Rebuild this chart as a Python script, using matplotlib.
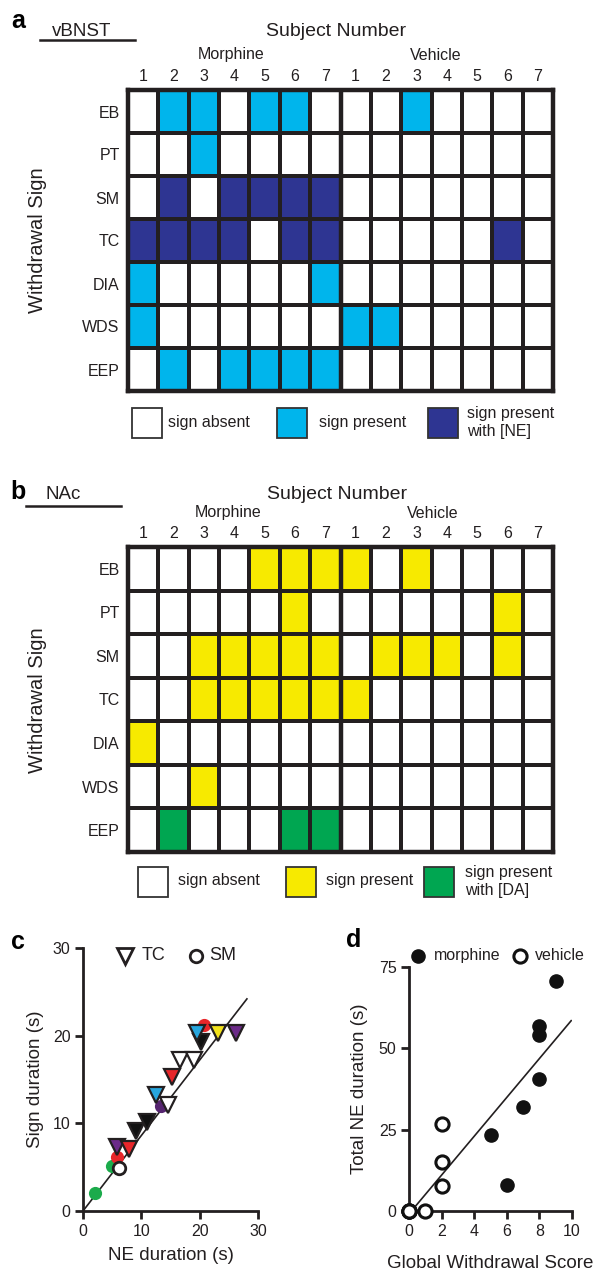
import matplotlib
matplotlib.use('Agg')
import matplotlib.pyplot as plt
from matplotlib.colors import ListedColormap
from matplotlib.patches import Rectangle
import numpy as np

plt.rcParams['font.family'] = ['Liberation Sans', 'DejaVu Sans']
TXT = '#231f20'

# ---------------- data ----------------
signs = ['EB', 'PT', 'SM', 'TC', 'DIA', 'WDS', 'EEP']
subject_labels = ['1', '2', '3', '4', '5', '6', '7', '1', '2', '3', '4', '5', '6', '7']
# 0 = sign absent, 1 = sign present, 2 = sign present with [NE] / [DA]
vbnst_grid = [
    [0, 1, 1, 0, 1, 1, 0, 0, 0, 1, 0, 0, 0, 0],
    [0, 0, 1, 0, 0, 0, 0, 0, 0, 0, 0, 0, 0, 0],
    [0, 2, 0, 2, 2, 2, 2, 0, 0, 0, 0, 0, 0, 0],
    [2, 2, 2, 2, 0, 2, 2, 0, 0, 0, 0, 0, 2, 0],
    [1, 0, 0, 0, 0, 0, 1, 0, 0, 0, 0, 0, 0, 0],
    [1, 0, 0, 0, 0, 0, 0, 1, 1, 0, 0, 0, 0, 0],
    [0, 1, 0, 1, 1, 1, 1, 0, 0, 0, 0, 0, 0, 0],
]
nac_grid = [
    [0, 0, 0, 0, 1, 1, 1, 1, 0, 1, 0, 0, 0, 0],
    [0, 0, 0, 0, 0, 1, 0, 0, 0, 0, 0, 0, 1, 0],
    [0, 0, 1, 1, 1, 1, 1, 0, 1, 1, 1, 0, 1, 0],
    [0, 0, 1, 1, 1, 1, 1, 1, 0, 0, 0, 0, 0, 0],
    [1, 0, 0, 0, 0, 0, 0, 0, 0, 0, 0, 0, 0, 0],
    [0, 0, 1, 0, 0, 0, 0, 0, 0, 0, 0, 0, 0, 0],
    [0, 2, 0, 0, 0, 2, 2, 0, 0, 0, 0, 0, 0, 0],
]

# panel c: sign duration vs NE duration
tc_ne = [5.9, 7.8, 9.0, 11.0, 12.5, 14.6, 15.2, 16.6, 19.1, 20.3, 19.5, 23.2, 26.2]
tc_sign = [7.3, 7.1, 9.1, 10.2, 13.2, 12.1, 15.3, 17.2, 17.2, 19.3, 20.3, 20.3, 20.3]
tc_color = ['#6b2a88', '#e8262a', '#111111', '#111111', '#27a6de', 'white', '#e8262a',
            'white', 'white', '#111111', '#27a6de', '#f3e31c', '#6b2a88']
sm_ne = [2.05, 4.9, 5.9, 13.4, 20.8, 6.2]
sm_sign = [2.1, 5.1, 6.2, 12.0, 21.2, 4.9]
sm_color = ['#1bab4b', '#1bab4b', '#e8262a', '#55246f', '#e8262a', 'white']
c_fit = (0.861, 0.0)      # slope, intercept
c_fit_range = (0.0, 28.1)

# panel d: total NE duration vs global withdrawal score
morph_score = [9, 8, 8, 8, 7, 5, 6]
morph_ne = [70.6, 56.8, 54.0, 40.5, 32.0, 23.5, 7.9]
veh_score = [0, 0, 0, 1, 2, 2, 2]
veh_ne = [0, 0, 0, 0, 7.6, 15.1, 26.8]
d_fit = (5.97, -0.9)
d_fit_range = (0.15, 9.95)

C_BLUE = '#00b5ec'
C_NAVY = '#2e3592'
C_YEL = '#f7ea00'
C_GRN = '#00a651'

# ---------------- figure ----------------
W, H = 598, 1272
fig = plt.figure(figsize=(W / 100, H / 100), dpi=100)


def X(x):
    return x / W


def Y(y):
    return 1 - y / H


def box(l, t, r, b):
    return [l / W, 1 - b / H, (r - l) / W, (b - t) / H]


def grid_panel(rect, data, c_present, c_special):
    ax = fig.add_axes(rect)
    cmap = ListedColormap(['white', c_present, c_special])
    ax.pcolormesh(np.array(data), cmap=cmap, vmin=-0.5, vmax=2.5,
                  edgecolors=TXT, linewidth=1.6)
    ax.set_xlim(0, 14)
    ax.set_ylim(7, 0)
    ax.axvline(7, color=TXT, lw=3.2)
    for s in ax.spines.values():
        s.set_linewidth(3.2)
        s.set_color(TXT)
    ax.xaxis.tick_top()
    ax.set_xticks(np.arange(14) + 0.5, subject_labels, fontsize=11.5, color=TXT)
    ax.set_yticks(np.arange(7) + 0.5, signs, fontsize=11.5, color=TXT)
    ax.tick_params(length=0, pad=6)
    ax.tick_params(axis='x', pad=4)
    return ax


def legend_row(y_top, squares, texts, color_list, y_mid):
    for (l, r), c in zip(squares, color_list):
        fig.patches.append(Rectangle((X(l), Y(y_top + 30)), (r - l) / W, 30 / H,
                                     transform=fig.transFigure, facecolor=c,
                                     edgecolor='#333333', lw=1.3))
    for (tx, t) in texts:
        fig.text(X(tx), Y(y_mid), t, fontsize=11.5, color=TXT, va='center',
                 ha='left', linespacing=1.25)


# ---- panel a ----
grid_panel(box(128, 90, 553, 391), vbnst_grid, C_BLUE, C_NAVY)
fig.text(X(18), Y(21), 'a', fontsize=18, fontweight='bold', va='center', ha='center')
fig.text(X(82), Y(31), 'vBNST', fontsize=13.5, color=TXT, va='center', ha='center')
fig.add_artist(plt.Line2D([X(40), X(135)], [Y(40), Y(40)], color=TXT, lw=1.8))
fig.text(X(336), Y(32), 'Subject Number', fontsize=14, color=TXT, va='center', ha='center')
fig.text(X(231), Y(55), 'Morphine', fontsize=11.5, color=TXT, va='center', ha='center')
fig.text(X(436), Y(55), 'Vehicle', fontsize=11.5, color=TXT, va='center', ha='center')
fig.text(X(38), Y(240), 'Withdrawal Sign', fontsize=14.5, color=TXT, va='center',
         ha='center', rotation=90)
legend_row(408, [(132, 162), (277, 307), (428, 458)],
           [(168, 'sign absent'), (319, 'sign present'), (467, 'sign present\nwith [NE]')],
           ['white', C_BLUE, C_NAVY], 423)

# ---- panel b ----
grid_panel(box(128, 547, 553, 852), nac_grid, C_YEL, C_GRN)
fig.text(X(18), Y(492), 'b', fontsize=18, fontweight='bold', va='center', ha='center')
fig.text(X(63), Y(495), 'NAc', fontsize=13.5, color=TXT, va='center', ha='center')
fig.add_artist(plt.Line2D([X(26), X(121)], [Y(506), Y(506)], color=TXT, lw=1.8))
fig.text(X(337), Y(495), 'Subject Number', fontsize=14, color=TXT, va='center', ha='center')
fig.text(X(228), Y(513), 'Morphine', fontsize=11.5, color=TXT, va='center', ha='center')
fig.text(X(433), Y(513), 'Vehicle', fontsize=11.5, color=TXT, va='center', ha='center')
fig.text(X(38), Y(700), 'Withdrawal Sign', fontsize=14.5, color=TXT, va='center',
         ha='center', rotation=90)
legend_row(867, [(138, 168), (286, 316), (424, 454)],
           [(178, 'sign absent'), (326, 'sign present'), (465, 'sign present\nwith [DA]')],
           ['white', C_YEL, C_GRN], 881)


def style_axes(ax):
    for side in ['top', 'right']:
        ax.spines[side].set_visible(False)
    for side in ['left', 'bottom']:
        ax.spines[side].set_linewidth(2)
        ax.spines[side].set_color(TXT)
    ax.tick_params(direction='out', length=6, width=2, color=TXT, labelsize=11.5,
                   labelcolor=TXT, pad=3)


# ---- panel c ----
axc = fig.add_axes(box(83, 948, 258, 1211))
axc.set_xlim(0, 30)
axc.set_ylim(0, 30)
style_axes(axc)
axc.set_xticks([0, 10, 20, 30])
axc.set_yticks([0, 10, 20, 30])
xs = np.array(c_fit_range)
axc.plot(xs, c_fit[0] * xs + c_fit[1], color=TXT, lw=1.2, zorder=2)
for x, y, c in zip(sm_ne, sm_sign, sm_color):
    if c == 'white':
        axc.plot(x, y, 'o', ms=9, mfc='white', mec=TXT, mew=2, zorder=4, clip_on=False)
    else:
        axc.plot(x, y, 'o', ms=9.5, mfc=c, mec=c, mew=0, zorder=3, clip_on=False)
for x, y, c in zip(tc_ne, tc_sign, tc_color):
    axc.plot(x, y, 'v', ms=11.5, mfc=c, mec=TXT, mew=1.6, zorder=5, clip_on=False)
axc.set_xlabel('NE duration (s)', fontsize=13.5, color=TXT, labelpad=6)
axc.set_ylabel('Sign duration (s)', fontsize=13.5, color=TXT, labelpad=6)
# legend
axc.plot(7.2, 29.1, 'v', ms=11, mfc='white', mec=TXT, mew=2, clip_on=False)
axc.text(10.0, 29.1, 'TC', fontsize=13, color=TXT, va='center', ha='left')
axc.plot(19.3, 29.1, 'o', ms=9, mfc='white', mec=TXT, mew=2, clip_on=False)
axc.text(21.6, 29.1, 'SM', fontsize=13, color=TXT, va='center', ha='left')
fig.text(X(18), Y(942), 'c', fontsize=18, fontweight='bold', va='center', ha='center')

# ---- panel d ----
axd = fig.add_axes(box(409, 967, 572, 1211))
axd.set_xlim(0, 10)
axd.set_ylim(0, 75)
style_axes(axd)
axd.set_xticks([0, 2, 4, 6, 8, 10])
axd.set_yticks([0, 25, 50, 75])
xs = np.array(d_fit_range)
axd.plot(xs, d_fit[0] * xs + d_fit[1], color=TXT, lw=1.2, zorder=2)
axd.plot(morph_score, morph_ne, 'o', ms=9.5, mfc='#111111', mec='#111111', ls='none',
         zorder=3, clip_on=False)
axd.plot(veh_score, veh_ne, 'o', ms=9.5, mfc='white', mec='#111111', mew=2.2, ls='none',
         zorder=4, clip_on=False)
axd.set_xlabel('Global Withdrawal Score', fontsize=13.5, color=TXT, labelpad=12)
axd.set_ylabel('Total NE duration (s)', fontsize=13.5, color=TXT, labelpad=8)
axd.plot(0.55, 78.5, 'o', ms=9.5, mfc='#111111', mec='#111111', clip_on=False)
axd.text(1.5, 78.5, 'morphine', fontsize=11.5, color=TXT, va='center', ha='left')
axd.plot(6.8, 78.5, 'o', ms=9.5, mfc='white', mec='#111111', mew=2.2, clip_on=False)
axd.text(7.7, 78.5, 'vehicle', fontsize=11.5, color=TXT, va='center', ha='left')
fig.text(X(354), Y(940), 'd', fontsize=18, fontweight='bold', va='center', ha='center')

fig.savefig('out.png', dpi=100)
